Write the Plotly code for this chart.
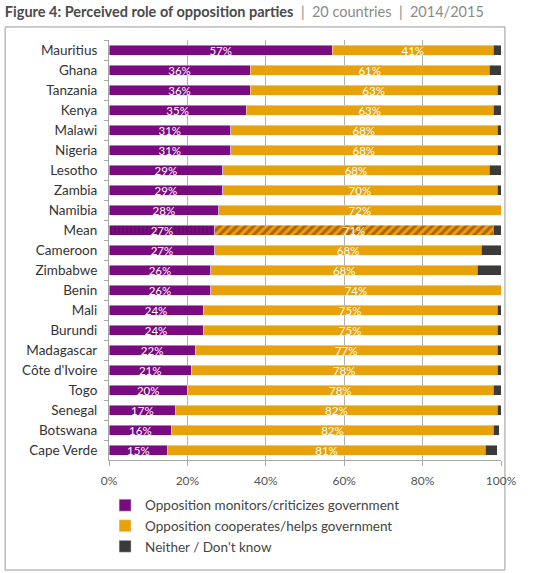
import plotly.graph_objects as go

# Data (share of respondents, %)
countries = ['Mauritius', 'Ghana', 'Tanzania', 'Kenya', 'Malawi', 'Nigeria', 'Lesotho',
             'Zambia', 'Namibia', 'Mean', 'Cameroon', 'Zimbabwe', 'Benin', 'Mali',
             'Burundi', 'Madagascar', "Côte d'Ivoire", 'Togo', 'Senegal', 'Botswana',
             'Cape Verde']
monitors = [57, 36, 36, 35, 31, 31, 29, 29, 28, 27, 27, 26, 26, 24, 24, 22, 21, 20, 17, 16, 15]
cooperates = [41, 61, 63, 63, 68, 68, 68, 70, 72, 71, 68, 68, 74, 75, 75, 77, 78, 78, 82, 82, 81]
neither = [2, 3, 1, 2, 1, 1, 3, 2, 0.5, 2, 5, 6, 0.5, 1, 1, 1.5, 1, 2, 1.5, 1.5, 3]

PURPLE = '#7a0a80'
ORANGE = '#e8a10a'
DARK = '#3a3a3a'
FONT = 'Lato'

is_mean = [c == 'Mean' for c in countries]

fig = go.Figure()

fig.add_trace(go.Bar(
    y=countries, x=monitors, orientation='h', name='Opposition monitors/criticizes government',
    legendgroup='a',
    marker=dict(color=PURPLE,
                pattern=dict(shape=['|' if m else '' for m in is_mean],
                             fgcolor='#3d1040', size=4, solidity=0.35)),
    text=monitors, texttemplate='%{text}%', textposition='inside', insidetextanchor='middle',
    textfont=dict(color='white', size=11.5, family=FONT)))

fig.add_trace(go.Bar(
    y=countries, x=cooperates, orientation='h', name='Opposition cooperates/helps government',
    legendgroup='b',
    marker=dict(color=ORANGE,
                pattern=dict(shape=['/' if m else '' for m in is_mean],
                             fgcolor='#7a2208', size=6, solidity=0.5)),
    text=cooperates, texttemplate='%{text}%', textposition='inside', insidetextanchor='middle',
    textfont=dict(color='white', size=11.5, family=FONT)))

fig.add_trace(go.Bar(
    y=countries, x=neither, orientation='h', name='Neither / Don\'t know',
    legendgroup='c',
    marker=dict(color=DARK), textposition='none'))

fig.update_layout(
    barmode='stack',
    bargap=0.5,
    width=540, height=573,
    margin=dict(l=109, r=39, t=40, b=113),
    paper_bgcolor='white',
    plot_bgcolor='white',
    font=dict(family=FONT, color='#333333'),
    uniformtext=dict(minsize=11.5, mode='show'),
    title=dict(
        text="<b>Figure 4: Perceived role of opposition parties</b>"
             "<span style='color:#8a8a8a'>  |  20 countries  |  2014/2015</span>",
        x=0.009, xanchor='left', xref='container',
        y=0.979, yanchor='middle', yref='container',
        font=dict(size=14.5, color='#4a4a4a', family=FONT)),
    xaxis=dict(range=[0, 100], tickvals=[0, 20, 40, 60, 80, 100],
               ticktext=['0%', '20%', '40%', '60%', '80%', '100%'],
               showgrid=True, gridcolor='#b0b0b0', gridwidth=1,
               showline=True, linecolor='#a8a8a8', ticks='outside', ticklen=5,
               tickcolor='#a8a8a8', zeroline=False, ticklabelstandoff=5,
               automargin=False,
               tickfont=dict(size=12, color='#555555')),
    yaxis=dict(autorange='reversed', showline=True, linecolor='#a8a8a8',
               ticks='outside', tickson='boundaries', ticklen=4, tickcolor='#a8a8a8',
               ticklabelstandoff=8, automargin=False,
               tickfont=dict(size=13.5, color='#333333')),
    legend=dict(x=-0.01, y=0.145, xanchor='left', yanchor='top', yref='container',
                orientation='v',
                font=dict(size=13.5, color='#444444'), traceorder='normal',
                itemwidth=30, tracegroupgap=5),
    showlegend=True,
)

# outer frame of the figure
fig.add_shape(type='rect', xref='paper', yref='paper',
              x0=-0.265, x1=1.01, y0=-0.262, y1=1.031,
              line=dict(color='#9a9a9a', width=1), fillcolor='rgba(0,0,0,0)', layer='below')

# drop the default page margin so the figure sits at the window corner
fig.write_html('out.html', config={'displayModeBar': False},
               post_script="document.body.style.margin='0px';")
